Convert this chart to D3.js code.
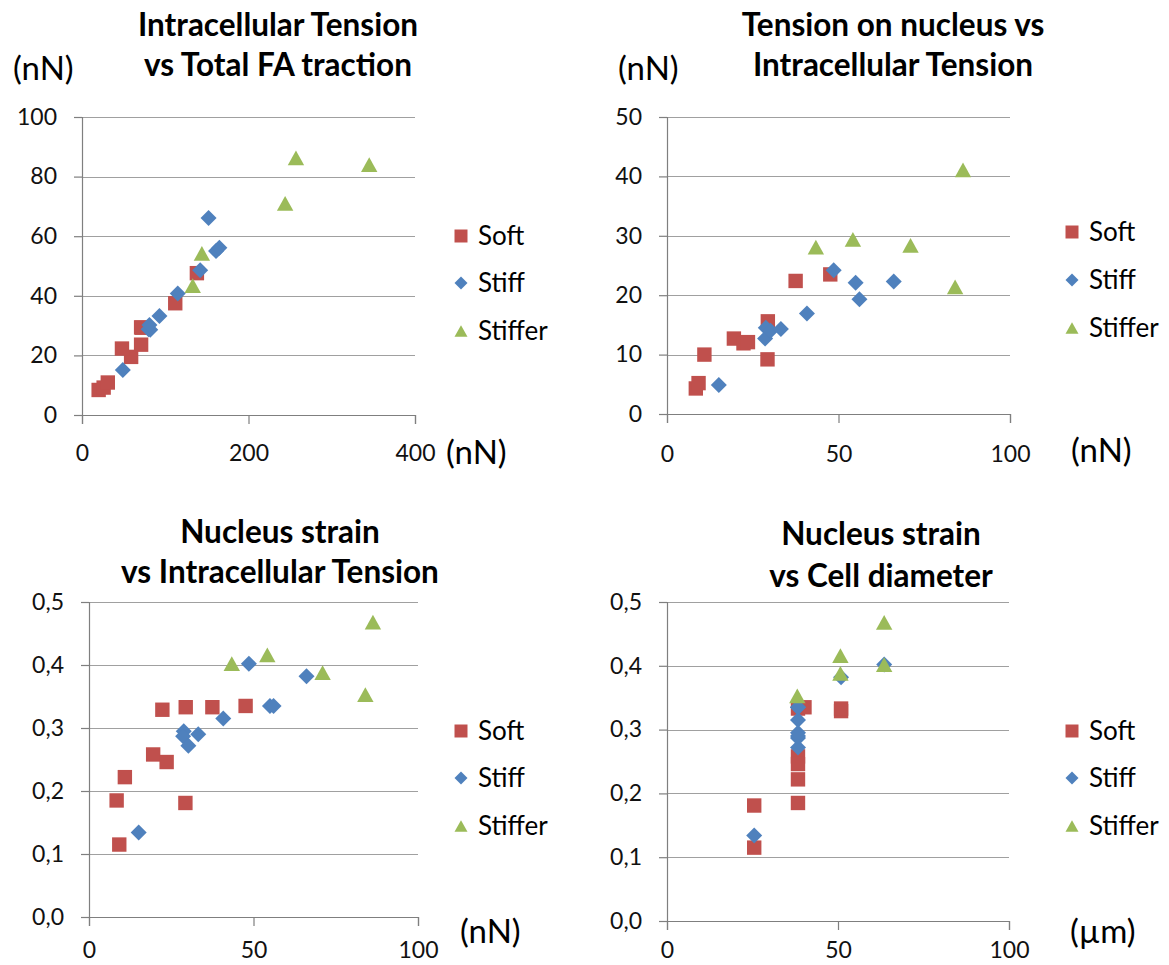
<!DOCTYPE html>
<html lang="en">
<head>
<meta charset="utf-8">
<title>Tension and nucleus strain</title>
<script src="https://cdn.jsdelivr.net/npm/d3@7"></script>
<style>
    body { margin: 0; background: #fff; }
    svg { display: block; }
</style>
</head>
<body>
<div id="vis-container"></div>
<script>
// values, same cell = same index in every array
var softFA        = [20, 26, 31, 59, 48, 71, 71, 72, 112, 138];
var softTension   = [8.4, 9.2, 10.9, 19.5, 22.3, 23.6, 29.4, 29.3, 37.5, 47.6];
var softNucleus   = [4.3, 5.2, 10.0, 12.7, 11.9, 12.1, 15.6, 9.2, 22.4, 23.5];
var softStrain    = [0.185, 0.115, 0.222, 0.258, 0.329, 0.246, 0.333, 0.181, 0.333, 0.335];
var softDiameter  = [38.3, 25.5, 38.3, 38.3, 50.9, 38.3, 38.3, 25.5, 50.9, 40.2];

var stiffFA       = [49, 80, 82, 81, 93, 115, 142, 161, 165, 152];
var stiffTension  = [15.1, 28.8, 28.6, 30.2, 33.2, 40.8, 48.6, 55.0, 56.1, 66.1];
var stiffNucleus  = [4.9, 14.5, 12.7, 14.0, 14.3, 16.9, 24.2, 22.1, 19.3, 22.3];
var stiffStrain   = [0.134, 0.295, 0.287, 0.272, 0.290, 0.315, 0.402, 0.335, 0.335, 0.382];
var stiffDiameter = [25.5, 38.3, 38.3, 38.3, 38.3, 38.3, 63.5, 38.3, 38.3, 50.9];

var stifferFA       = [133, 144, 244, 345, 257];
var stifferTension  = [43.4, 54.2, 71.0, 84.0, 86.3];
var stifferNucleus  = [28.1, 29.4, 28.4, 21.4, 41.1];
var stifferStrain   = [0.402, 0.416, 0.388, 0.353, 0.468];
var stifferDiameter = [63.5, 50.7, 50.7, 38.1, 63.5];

var seriesNames  = ["Soft", "Stiff", "Stiffer"];
var seriesColors = ["#c0504d", "#4f81bd", "#9bbb59"];
var seriesShapes = ["square", "diamond", "triangle"];

var xTicksFA       = [0, 200, 400];
var xTicksTension  = [0, 50, 100];
var xTicksDiameter = [0, 50, 100];
var yTicksTension  = [0, 20, 40, 60, 80, 100];
var yTicksNucleus  = [0, 10, 20, 30, 40, 50];
var yTicksStrain   = [0, 0.1, 0.2, 0.3, 0.4, 0.5];

var fontFamily = "Lato, 'Open Sans', sans-serif";
var commaFmt = function(d) { return d3.format(".1f")(d).replace(".", ","); };

var svg = d3.select("#vis-container")
    .append("svg")
    .attr("width", 1169)
    .attr("height", 965)
    .style("font-family", fontFamily);

svg.append("rect").attr("width", 1169).attr("height", 965).attr("fill", "#fff");

// marker outlines, r is half of the marker width
function markerPath(shape, r) {
    if (shape == "square") {
        return "M" + (-r) + "," + (-r) + "h" + (2 * r) + "v" + (2 * r) + "h" + (-2 * r) + "Z";
    }
    if (shape == "diamond") {
        return "M0," + (-r) + "L" + r + ",0L0," + r + "L" + (-r) + ",0Z";
    }
    var h = r * 0.9;
    return "M0," + (-h) + "L" + r + "," + h + "L" + (-r) + "," + h + "Z";
}
var plotSize   = { square: 7.2, diamond: 8, triangle: 8.2 };
var legendSize = { square: 6.5, diamond: 6.5, triangle: 6.5 };

var charts = [
    {
        title: ["Intracellular Tension", "vs Total FA traction"], titleX: 278, titleY: [36, 76],
        left: 82, right: 415, top: 117, bottom: 415,
        xDomain: [0, 400], yDomain: [0, 100], xTicks: xTicksFA, yTicks: yTicksTension,
        yFmt: d3.format("d"), xLabelY: 46,
        xs: [softFA, stiffFA, stifferFA], ys: [softTension, stiffTension, stifferTension],
        yUnit: { text: "(nN)", x: 13, y: 80 }, xUnit: { text: "(nN)", x: 446, y: 464 },
        legendX: 461, legendY: [236, 283, 331]
    },
    {
        title: ["Tension on nucleus vs", "Intracellular Tension"], titleX: 893, titleY: [36, 76],
        left: 667, right: 1010, top: 117, bottom: 414,
        xDomain: [0, 100], yDomain: [0, 50], xTicks: xTicksTension, yTicks: yTicksNucleus,
        yFmt: d3.format("d"), xLabelY: 48,
        xs: [softTension, stiffTension, stifferTension], ys: [softNucleus, stiffNucleus, stifferNucleus],
        yUnit: { text: "(nN)", x: 618, y: 80 }, xUnit: { text: "(nN)", x: 1071, y: 462 },
        legendX: 1072, legendY: [232, 280, 328]
    },
    {
        title: ["Nucleus strain", "vs Intracellular Tension"], titleX: 280, titleY: [543, 583],
        left: 89, right: 418, top: 602, bottom: 917,
        xDomain: [0, 100], yDomain: [0, 0.5], xTicks: xTicksTension, yTicks: yTicksStrain,
        yFmt: commaFmt, xLabelY: 41,
        xs: [softTension, stiffTension, stifferTension], ys: [softStrain, stiffStrain, stifferStrain],
        yUnit: null, xUnit: { text: "(nN)", x: 460, y: 943 },
        legendX: 461, legendY: [731, 778, 826]
    },
    {
        title: ["Nucleus strain", "vs Cell diameter"], titleX: 881, titleY: [545, 587],
        left: 667, right: 1009, top: 602, bottom: 921,
        xDomain: [0, 100], yDomain: [0, 0.5], xTicks: xTicksDiameter, yTicks: yTicksStrain,
        yFmt: commaFmt, xLabelY: 37,
        xs: [softDiameter, stiffDiameter, stifferDiameter], ys: [softStrain, stiffStrain, stifferStrain],
        yUnit: null, xUnit: { text: "(\u00b5m)", x: 1070, y: 943 },
        legendX: 1072, legendY: [731, 778, 826]
    }
];

function drawChart(c) {
    var g = svg.append("g");

    var x = d3.scaleLinear().domain(c.xDomain).range([c.left, c.right]);
    var y = d3.scaleLinear().domain(c.yDomain).range([c.bottom, c.top]);

    // horizontal gridlines
    g.append("g")
        .selectAll("line")
        .data(c.yTicks.slice(1))
        .join("line")
        .attr("x1", c.left)
        .attr("x2", c.right)
        .attr("y1", function(d) { return Math.round(y(d)) + 0.5; })
        .attr("y2", function(d) { return Math.round(y(d)) + 0.5; })
        .attr("stroke", "#a0a0a0")
        .attr("stroke-width", 1.2);

    var xAxis = g.append("g")
        .attr("transform", "translate(0," + c.bottom + ")")
        .call(d3.axisBottom(x).tickValues(c.xTicks).tickSize(9).tickFormat(d3.format("d")));

    var yAxis = g.append("g")
        .attr("transform", "translate(" + c.left + ",0)")
        .call(d3.axisLeft(y).tickValues(c.yTicks).tickSize(8).tickPadding(17).tickFormat(c.yFmt));

    [xAxis, yAxis].forEach(function(a) {
        a.attr("font-family", fontFamily).attr("font-size", 23);
        a.select(".domain").attr("stroke", "#7f7f7f").attr("stroke-width", 1.2);
        a.selectAll(".tick line").attr("stroke", "#7f7f7f").attr("stroke-width", 1.2);
        a.selectAll(".tick text").attr("fill", "#111");
    });
    xAxis.selectAll(".tick text").attr("dy", null).attr("y", c.xLabelY);

    // markers, later series drawn on top
    c.xs.forEach(function(xs, i) {
        g.append("g")
            .selectAll("path")
            .data(d3.zip(xs, c.ys[i]))
            .join("path")
            .attr("transform", function(d) { return "translate(" + x(d[0]) + "," + y(d[1]) + ")"; })
            .attr("d", markerPath(seriesShapes[i], plotSize[seriesShapes[i]]))
            .attr("fill", seriesColors[i]);
    });

    // title
    g.append("g")
        .selectAll("text")
        .data(c.title)
        .join("text")
        .attr("x", c.titleX)
        .attr("y", function(d, i) { return c.titleY[i]; })
        .attr("text-anchor", "middle")
        .attr("font-weight", "bold")
        .attr("font-size", 31.5)
        .attr("fill", "#000")
        .text(function(d) { return d; });

    // unit labels
    [c.yUnit, c.xUnit].forEach(function(u) {
        if (!u) return;
        g.append("text")
            .attr("x", u.x)
            .attr("y", u.y)
            .attr("font-size", 33)
            .attr("fill", "#000")
            .text(u.text);
    });

    // legend
    var leg = g.append("g")
        .selectAll("g")
        .data(seriesNames)
        .join("g")
        .attr("transform", function(d, i) { return "translate(" + c.legendX + "," + c.legendY[i] + ")"; });
    leg.append("path")
        .attr("d", function(d, i) { return markerPath(seriesShapes[i], legendSize[seriesShapes[i]]); })
        .attr("fill", function(d, i) { return seriesColors[i]; });
    leg.append("text")
        .attr("x", 17)
        .attr("y", 9)
        .attr("font-size", 26)
        .attr("fill", "#000")
        .text(function(d) { return d; });
}

charts.forEach(drawChart);
</script>
</body>
</html>
